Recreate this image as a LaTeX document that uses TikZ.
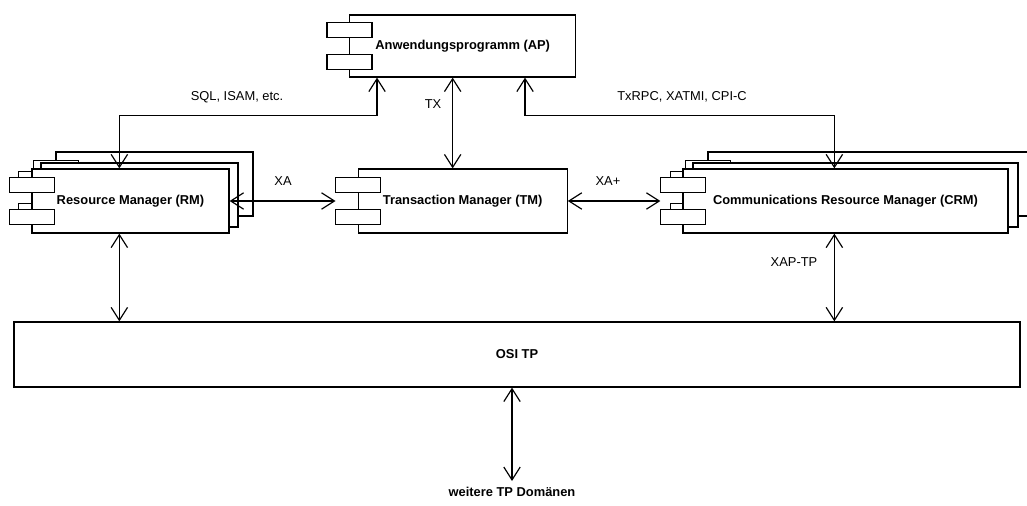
\documentclass[tikz,border=0pt]{standalone}
\usepackage{fontspec}
\setmainfont{Liberation Sans}
\usetikzlibrary{arrows.meta, positioning, calc}

% one component box with its two tabs on the left edge
\newcommand{\comptabs}[1]{%
  \foreach \f in {0.25,0.75}
    \draw[tab] ($(#1.north west)!\f!(#1.south west)+(-0.66,-0.225)$)
      rectangle ++(1.35,0.45);}

\tikzset{
  comp/.style={draw, fill=white, line width=1.1pt, inner sep=0pt,
    minimum height=1.92cm, font=\fontsize{11}{13}\selectfont\bfseries},
  tab/.style={draw, fill=white, line width=1.1pt},
  link/.style={{Straight Barb[length=11pt, width=14pt]}-{Straight Barb[length=11pt, width=14pt]},
    line width=1pt},
  lbl/.style={font=\fontsize{11}{13}\selectfont, inner sep=1pt}
}

\begin{document}
\begin{tikzpicture}
  \useasboundingbox (0,0) rectangle (30.81,15.15);
  \clip (0,0) rectangle (30.81,15.15);

  \coordinate (rmc)  at (3.915,9.12);
  \coordinate (crmc) at (25.365,9.12);

  % stacked copies behind RM and CRM
  \foreach \dx/\dy/\k in {0.72/0.51/3, 0.27/0.18/2} {
    \node[comp, minimum width=5.91cm] (rm\k) at ([shift={(\dx,\dy)}]rmc) {};
    \comptabs{rm\k}
    \node[comp, minimum width=9.75cm] (crm\k) at ([shift={(\dx+0.03,\dy)}]crmc) {};
    \comptabs{crm\k}
  }

  \node[comp, minimum width=5.91cm] (rm) at (rmc) {Resource Manager (RM)};
  \comptabs{rm}
  \node[comp, minimum width=6.27cm] (tm) at (13.88,9.12) {Transaction Manager (TM)};
  \comptabs{tm}
  \node[comp, minimum width=9.75cm] (crm) at (crmc) {Communications Resource Manager (CRM)};
  \comptabs{crm}
  \node[comp, minimum width=6.78cm, minimum height=1.86cm] (ap) at (13.88,13.77)
    {Anwendungsprogramm (AP)};
  \comptabs{ap}

  \node[comp, minimum width=30.18cm, minimum height=1.95cm] (osi) at (15.51,4.515) {OSI TP};

  % interfaces
  \draw[link] ([xshift=0.84cm]ap.south west)
    |- ([xshift=2.64cm, yshift=1.59cm]rm.north west) -- ([xshift=2.64cm]rm.north west);
  \draw[link] ([xshift=5.28cm]ap.south west)
    |- ([xshift=4.56cm, yshift=1.59cm]crm.north west) -- ([xshift=4.56cm]crm.north west);
  \draw[link] ([xshift=-0.3cm]ap.south) -- ([xshift=-0.3cm]tm.north);
  \draw[link] (rm.east) -- ([xshift=-0.66cm]tm.west);
  \draw[link] (tm.east) -- ([xshift=-0.66cm]crm.west);
  \draw[link] ([xshift=2.64cm]rm.south west) -- ([xshift=2.64cm]rm.south west |- osi.north);
  \draw[link] ([xshift=4.56cm]crm.south west) -- ([xshift=4.56cm]crm.south west |- osi.north);

  \coordinate (dom) at (15.36,0.72);
  \draw[link] (osi.south -| dom) -- (dom);

  \node[lbl] (sqlLbl) at (7.11,12.24) {SQL, ISAM, etc.};
  \node[lbl] (txLbl)  at (12.99,12.03) {TX};
  \node[lbl] (rpcLbl) at (20.46,12.24) {TxRPC, XATMI, CPI-C};
  \node[lbl] (xaLbl)  at (8.49,9.72) {XA};
  \node[lbl] (xapLbl) at (18.24,9.72) {XA+};
  \node[lbl] (tpLbl)  at (23.82,7.29) {XAP-TP};
  \node[lbl, font=\fontsize{11}{13}\selectfont\bfseries] (domLbl) at (15.36,0.39)
    {weitere TP Domänen};
\end{tikzpicture}
\end{document}
